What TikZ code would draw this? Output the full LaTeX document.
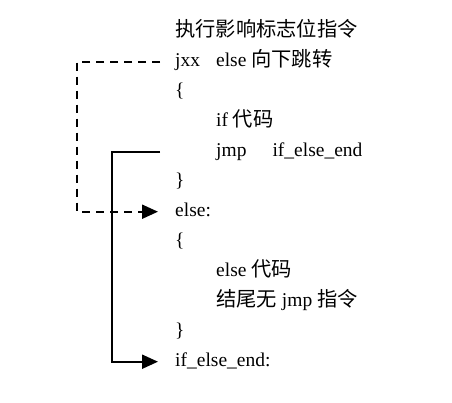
\documentclass[tikz,border=0pt]{standalone}
\usepackage{fontspec}
\setmainfont{Liberation Serif}
\newfontfamily\cjk[Scale=1.04]{Noto Sans CJK SC}
\usetikzlibrary{arrows.meta}
\begin{document}
\begin{tikzpicture}
[x=1pt,y=-1pt,
  linedecorate/.style={anchor=west,inner xsep=0pt,inner ysep=0pt,%
    text height=14pt,text depth=4pt,font=\fontsize{19.5}{24}\selectfont},
  jumpdecorate/.style={-{Triangle[length=16pt,width=14pt]},line width=2.1pt,
    shorten <=15pt,shorten >=17pt},
  dashdecorate/.style={jumpdecorate,dash pattern=on 8pt off 6pt}]
\useasboundingbox (0,0) rectangle (452,402);
%% lines of code
\foreach \linename/\x/\y/\code in {head/175/31.7/{\cjk 执行影响标志位指令},
  jxx/175/61.7/{jxx\hspace{16pt}else {\cjk 向下跳转}}, open1/175/91.7/\{,
  ifcode/216/121.7/{if {\cjk 代码}}, jmp/216/151.7/{jmp\hspace{26pt}if\_else\_end},
  close1/175/181.7/\}, elselbl/175/211.7/else:, open2/175/241.7/\{,
  elsecode/216/271.7/{else {\cjk 代码}}, noend/216/301.7/{{\cjk 结尾无} jmp {\cjk 指令}},
  close2/175/331.7/\}, ifend/175/361.7/if\_else\_end:} {
  \node (\linename) at (\x,\y) [linedecorate] {\code};
}
%% jumps
\draw[dashdecorate] (jxx.west) -- ++(-98,0) |- (elselbl.west);
\draw[jumpdecorate] (jmp.west -| jxx.west) -- ++(-63,0) |- (ifend.west);
\end{tikzpicture}
\end{document}
